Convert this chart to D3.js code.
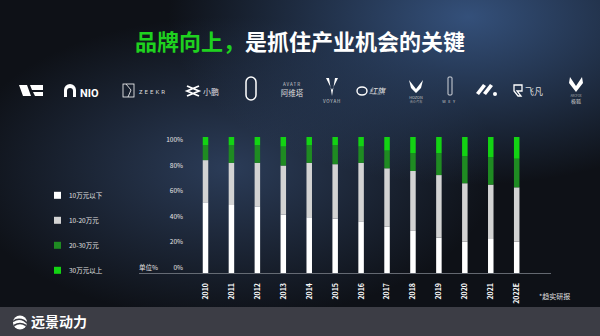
<!DOCTYPE html>
<html lang="zh">
<head>
<meta charset="UTF-8" />
<title>品牌向上</title>
<script src="https://cdn.jsdelivr.net/npm/d3@7"></script>
<style>
  html, body { margin: 0; padding: 0; background: #0d1016; }
  svg { display: block; font-family: "Noto Sans CJK SC", "Noto Sans", sans-serif; }
</style>
</head>
<body>
<script>
// data (share of sales, %)
var years = ["2010","2011","2012","2013","2014","2015","2016","2017","2018","2019","2020","2021","2022E"];
var under10 = [52, 50, 49, 43, 41, 40, 38, 34, 31, 26, 23, 25, 23];
var from10to20 = [31, 31, 32, 36, 40, 40, 43, 43, 44, 46, 43, 40, 40];
var from20to30 = [11, 13, 13, 14, 13, 14, 12, 13, 13, 16, 20, 20, 21];
var over30 = [6, 6, 6, 7, 6, 6, 7, 10, 12, 12, 14, 15, 16];
var seriesNames = ["10万元以下", "10-20万元", "20-30万元", "30万元以上"];
var seriesColors = ["#ffffff", "#d3d3d3", "#1f8b22", "#13d313"];
var tickValues = [0, 20, 40, 60, 80, 100];

var W = 600, H = 336;
var svg = d3.select("body").append("svg").attr("width", W).attr("height", H);
var defs = svg.append("defs");

// background glow
var g1 = defs.append("radialGradient").attr("id", "glowA")
  .attr("cx", 0.78).attr("cy", 0.05).attr("r", 0.5);
g1.append("stop").attr("offset", "0%").attr("stop-color", "#34507a").attr("stop-opacity", 1);
g1.append("stop").attr("offset", "100%").attr("stop-color", "#34507a").attr("stop-opacity", 0);
var g2 = defs.append("radialGradient").attr("id", "glowB")
  .attr("cx", 0.38).attr("cy", 0.5).attr("r", 0.45);
g2.append("stop").attr("offset", "0%").attr("stop-color", "#2b3c58").attr("stop-opacity", 1);
g2.append("stop").attr("offset", "100%").attr("stop-color", "#2b3c58").attr("stop-opacity", 0);

svg.append("rect").attr("width", W).attr("height", H).attr("fill", "#0e1117");
svg.append("rect").attr("width", W).attr("height", H).attr("fill", "url(#glowB)");
svg.append("rect").attr("width", W).attr("height", H).attr("fill", "url(#glowA)");

// title
var title = svg.append("text").attr("x", 300).attr("y", 50)
  .attr("text-anchor", "middle").attr("font-size", 22).attr("font-weight", "bold");
title.append("tspan").attr("fill", "#1fd11f").text("品牌向上，");
title.append("tspan").attr("fill", "#ffffff").text("是抓住产业机会的关键");

// brand logos row (rough marks)
var logos = svg.append("g").attr("fill", "#ffffff").attr("stroke", "none");
logos.append("path").attr("d", "M19,85 L27,85 L31,96 L23,96 Z M30,85 L43,85 L43,90 L32,90 Z M33,92 L43,92 L43,96 L35,96 Z");
logos.append("path").attr("d", "M64,97 L64,90 A6,6 0 0 1 76,90 L76,97 L73,97 L73,91 A3,3 0 0 0 67,91 L67,97 Z");
logos.append("text").attr("x", 80).attr("y", 97).attr("font-size", 11).attr("font-weight", "bold")
  .attr("font-family", "Roboto, sans-serif").text("NIO");
logos.append("rect").attr("x", 123).attr("y", 84).attr("width", 11).attr("height", 13)
  .attr("fill", "none").attr("stroke", "#fff").attr("stroke-width", 0.8);
logos.append("path").attr("d", "M126,84 L131,90 L128,97").attr("fill", "none").attr("stroke", "#fff").attr("stroke-width", 0.8);
logos.append("text").attr("x", 139).attr("y", 94).attr("font-size", 6).attr("letter-spacing", 2)
  .attr("font-family", "Roboto, sans-serif").attr("fill", "#ddd").text("ZEEKR");
logos.append("path").attr("d", "M187,86 L199,91 L187,96 M199,86 L187,91 L199,96").attr("fill", "none")
  .attr("stroke", "#fff").attr("stroke-width", 1.8);
logos.append("text").attr("x", 203).attr("y", 95).attr("font-size", 8).attr("fill", "#ddd").text("小鹏");
logos.append("rect").attr("x", 246).attr("y", 77).attr("width", 10).attr("height", 23).attr("rx", 5)
  .attr("fill", "none").attr("stroke", "#fff").attr("stroke-width", 1.5);
logos.append("text").attr("x", 292).attr("y", 86).attr("font-size", 4.5).attr("text-anchor", "middle")
  .attr("letter-spacing", 1).attr("fill", "#ccc").text("AVATR");
logos.append("text").attr("x", 292).attr("y", 96).attr("font-size", 7.5).attr("text-anchor", "middle")
  .attr("fill", "#ddd").text("阿维塔");
logos.append("path").attr("d", "M326,78 L332,90 L338,78 L335,78 L332,96 L329,78 Z");
logos.append("text").attr("x", 332).attr("y", 103).attr("font-size", 4.5).attr("text-anchor", "middle")
  .attr("letter-spacing", 0.8).attr("fill", "#ccc").text("VOYAH");
logos.append("ellipse").attr("cx", 362).attr("cy", 91).attr("rx", 5).attr("ry", 4)
  .attr("fill", "none").attr("stroke", "#fff").attr("stroke-width", 1.4);
logos.append("text").attr("x", 369).attr("y", 94).attr("font-size", 8).attr("font-style", "italic")
  .attr("fill", "#ddd").text("红旗");
logos.append("path").attr("d", "M409,80 L416,89 L423,80 L421,88 L416,93 L411,88 Z");
logos.append("text").attr("x", 416).attr("y", 99).attr("font-size", 3.8).attr("text-anchor", "middle")
  .attr("fill", "#ccc").text("HOZON");
logos.append("text").attr("x", 416).attr("y", 103).attr("font-size", 3.2).attr("text-anchor", "middle")
  .attr("fill", "#aaa").text("合众汽车");
logos.append("rect").attr("x", 448).attr("y", 77).attr("width", 4).attr("height", 18).attr("rx", 1)
  .attr("fill", "none").attr("stroke", "#fff").attr("stroke-width", 0.8);
logos.append("text").attr("x", 450).attr("y", 103).attr("font-size", 4).attr("text-anchor", "middle")
  .attr("letter-spacing", 2.5).attr("fill", "#ccc").text("WEY");
logos.append("path").attr("d", "M476,93 L483,84 L486,86 L479,95 Z M483,93 L490,84 L493,86 L486,95 Z");
logos.append("circle").attr("cx", 495).attr("cy", 94).attr("r", 2);
logos.append("path").attr("d", "M514,85 L522,85 L522,91 L517,91 L521,96 L518,96 L514,91 Z")
  .attr("fill", "none").attr("stroke", "#fff").attr("stroke-width", 1.3);
logos.append("text").attr("x", 525).attr("y", 95).attr("font-size", 9).attr("fill", "#ddd").text("飞凡");
logos.append("path").attr("d", "M570,77 L576,86 L582,77 L583,83 L576,92 L569,83 Z");
logos.append("text").attr("x", 576).attr("y", 97).attr("font-size", 3).attr("text-anchor", "middle")
  .attr("fill", "#aaa").text("ARCFOX");
logos.append("text").attr("x", 576).attr("y", 103).attr("font-size", 5).attr("text-anchor", "middle")
  .attr("fill", "#ccc").text("极狐");

// chart
var x = d3.scalePoint().domain(years).range([205.5, 516.7]);
var y = d3.scaleLinear().domain([0, 100]).range([273, 137]);
var yLabel = d3.scaleLinear().domain([0, 100]).range([267.5, 140]);
var barW = 5.5;

var table = years.map(function (yr, i) {
  return { year: yr, a: under10[i], b: from10to20[i], c: from20to30[i], d: over30[i] };
});
var stack = d3.stack().keys(["a", "b", "c", "d"])(table);

svg.append("g").selectAll("g").data(stack).join("g")
  .attr("fill", function (d, i) { return seriesColors[i]; })
  .selectAll("rect").data(function (d) { return d; }).join("rect")
  .attr("x", function (d) { return x(d.data.year) - barW / 2; })
  .attr("y", function (d) { return y(d[1]); })
  .attr("width", barW)
  .attr("height", function (d) { return y(d[0]) - y(d[1]); });

// value labels on the left
svg.append("g").selectAll("text").data(tickValues).join("text")
  .attr("x", 183).attr("y", function (d) { return yLabel(d); })
  .attr("dy", "0.35em").attr("text-anchor", "end")
  .attr("font-size", 6.5).attr("fill", "#e6e6e6")
  .text(function (d) { return d + "%"; });

svg.append("text").attr("x", 139).attr("y", 267.5).attr("dy", "0.35em")
  .attr("font-size", 6.5).attr("fill", "#e6e6e6").text("单位%");

svg.append("line").attr("x1", 139).attr("x2", 551).attr("y1", 273.5).attr("y2", 273.5)
  .attr("stroke", "#7a7f88").attr("stroke-width", 0.8);

// year labels, rotated
svg.append("g").selectAll("text").data(years).join("text")
  .attr("transform", function (d) { return "translate(" + (x(d) + 2.4) + ",283) rotate(-90)"; })
  .attr("text-anchor", "end").attr("font-size", 7).attr("font-weight", "bold")
  .attr("fill", "#ffffff").text(function (d) { return d; });

// legend
var legend = svg.append("g").selectAll("g").data(seriesNames).join("g")
  .attr("transform", function (d, i) { return "translate(54," + (195.3 + i * 25) + ")"; });
legend.append("rect").attr("x", 0).attr("y", -3.5).attr("width", 7).attr("height", 7)
  .attr("fill", function (d, i) { return seriesColors[i]; });
legend.append("text").attr("x", 15).attr("dy", "0.35em").attr("font-size", 6.5)
  .attr("fill", "#e0e0e0").text(function (d) { return d; });

svg.append("text").attr("x", 539).attr("y", 297).attr("dy", "0.35em")
  .attr("font-size", 7).attr("fill", "#e0e0e0").text("*趋实研报");

// footer band
svg.append("rect").attr("x", 0).attr("y", 307).attr("width", W).attr("height", H - 307).attr("fill", "#3c3d45");
var foot = svg.append("g").attr("transform", "translate(20,322.5)");
foot.append("circle").attr("r", 7).attr("fill", "#ffffff");
foot.append("path").attr("d", "M-7,-1 Q-2,-5 4,-2 Q7,0 7,1 M-6,3 Q0,-1 6,3")
  .attr("fill", "none").attr("stroke", "#3c3d45").attr("stroke-width", 1.6);
svg.append("text").attr("x", 31).attr("y", 322.5).attr("dy", "0.35em")
  .attr("font-size", 14).attr("font-weight", "bold").attr("fill", "#ffffff").text("远景动力");
</script>
</body>
</html>
